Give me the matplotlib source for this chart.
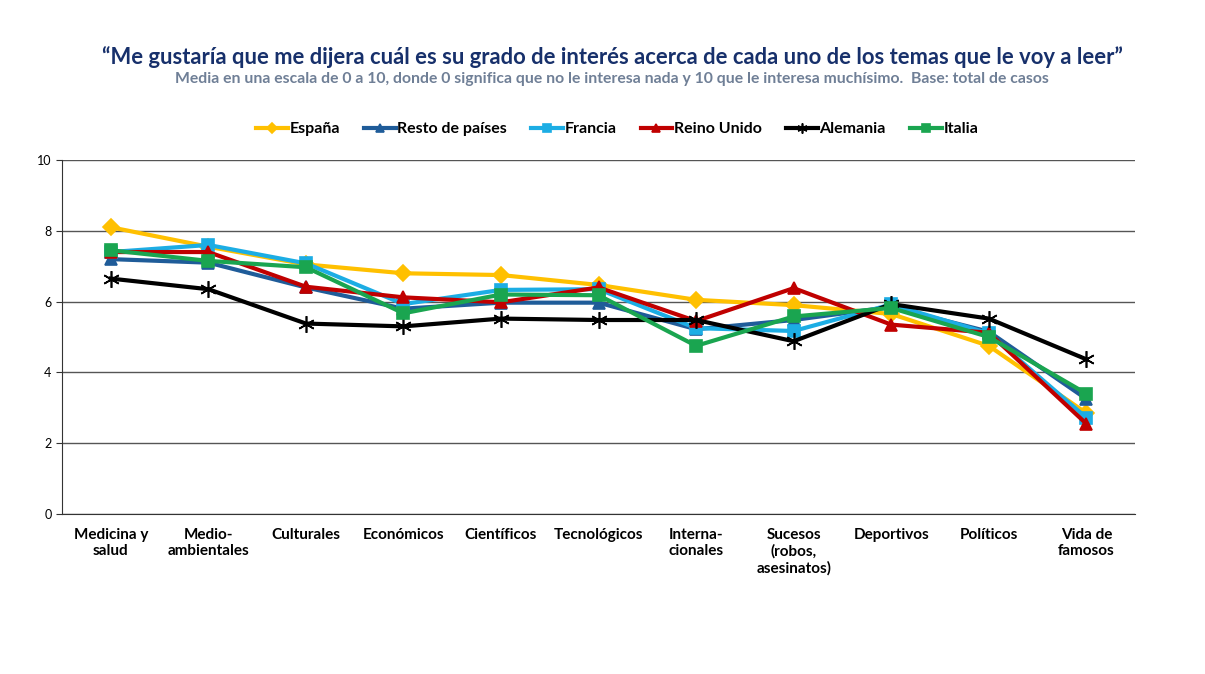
import matplotlib
matplotlib.use("Agg")
import matplotlib.pyplot as plt

plt.rcParams['font.family'] = ['Lato', 'DejaVu Sans']

categories = ["Medicina y\nsalud", "Medio-\nambientales", "Culturales", "Económicos",
              "Científicos", "Tecnológicos", "Interna-\ncionales", "Sucesos\n(robos,\nasesinatos)",
              "Deportivos", "Políticos", "Vida de\nfamosos"]

espana  = [8.1, 7.55, 7.05, 6.8, 6.75, 6.47, 6.05, 5.9, 5.65, 4.75, 2.85]
resto   = [7.2, 7.1, 6.4, 5.8, 5.97, 5.97, 5.22, 5.48, 5.85, 5.15, 3.25]
francia = [7.4, 7.6, 7.08, 5.93, 6.33, 6.35, 5.25, 5.17, 5.92, 5.1, 2.72]
reino   = [7.4, 7.4, 6.42, 6.12, 5.98, 6.4, 5.45, 6.38, 5.35, 5.12, 2.55]
alemania = [6.65, 6.35, 5.38, 5.3, 5.52, 5.48, 5.48, 4.88, 5.93, 5.52, 4.37]
italia  = [7.45, 7.15, 6.97, 5.67, 6.2, 6.18, 4.75, 5.58, 5.82, 5.0, 3.4]

series = [
    ("España", espana, "#FFC000", "D", 8),
    ("Resto de países", resto, "#1F5C99", "^", 9),
    ("Francia", francia, "#1CADE4", "s", 9),
    ("Reino Unido", reino, "#C00000", "^", 9),
    ("Alemania", alemania, "#000000", (6, 2, 0), 12),
    ("Italia", italia, "#1AA550", "s", 9),
]

fig = plt.figure(figsize=(12.05, 6.74), dpi=100)
ax = fig.add_axes([0.0515, 0.2374, 0.8905, 0.5252])

x = list(range(len(categories)))
for name, vals, col, mk, ms in series:
    ax.plot(x, vals, color=col, lw=3, marker=mk, ms=ms, mew=1.2, label=name)

ax.set_xlim(-0.5, len(categories) - 0.5)
ax.set_ylim(0, 10)
ax.set_yticks([0, 2, 4, 6, 8, 10])
ax.tick_params(axis='y', labelsize=9, length=4, color="#333333")
ax.tick_params(axis='x', length=0, pad=10)
ax.set_xticks(x)
ax.set_xticklabels(categories, fontsize=11, fontweight="bold", va="top")
ax.grid(axis='y', color="#555555", lw=1)
ax.set_axisbelow(True)
for s in ["top", "right"]:
    ax.spines[s].set_visible(False)
ax.spines["left"].set_color("#333333")
ax.spines["bottom"].set_color("#333333")

fig.text(0.508, 0.916, "“Me gustaría que me dijera cuál es su grado de interés acerca de cada uno de los temas que le voy a leer”",
         ha="center", va="center", fontsize=15.8, fontweight="bold", color="#17306B")
fig.text(0.508, 0.883, "Media en una escala de 0 a 10, donde 0 significa que no le interesa nada y 10 que le interesa muchísimo.  Base: total de casos",
         ha="center", va="center", fontsize=11.3, fontweight="bold", color="#6F7F96")

fig.legend(loc="center", bbox_to_anchor=(0.512, 0.808), ncol=6, frameon=False,
           handlelength=2.0, columnspacing=1.5, handletextpad=0.1, markerscale=0.6,
           prop={"weight": "bold", "size": 11.5})

fig.savefig("out.png", dpi=100)
